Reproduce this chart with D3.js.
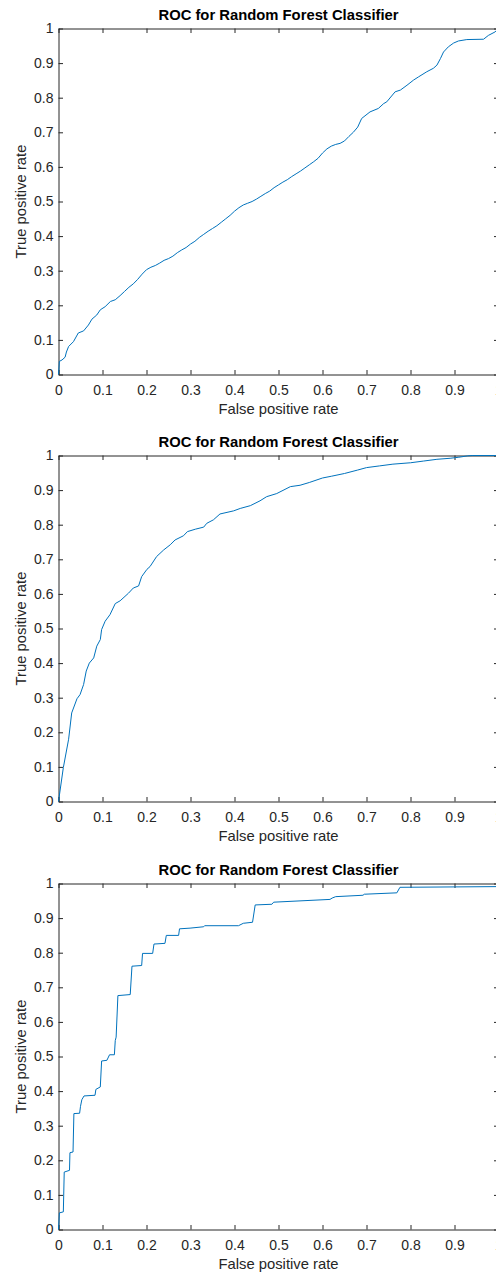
<!DOCTYPE html>
<html>
<head>
<meta charset="utf-8">
<script src="https://cdn.jsdelivr.net/npm/d3@7"></script>
<style>
  body { margin: 0; background: #fff; }
  svg { display: block; }
  text { font-family: "Liberation Sans", Arial, Helvetica, sans-serif; }
</style>
</head>
<body>
<svg id="fig" width="496" height="1278"></svg>
<script>
// ROC curve 1 (weak classifier)
const fpr1 = [0, 0.002, 0.008, 0.015, 0.018, 0.023, 0.034, 0.045, 0.057, 0.068, 0.076, 0.087, 0.095, 0.106, 0.118, 0.129,
  0.14, 0.15, 0.16, 0.17, 0.18, 0.19, 0.2, 0.21, 0.22, 0.23, 0.24, 0.25, 0.26, 0.27, 0.28, 0.29, 0.3, 0.31, 0.32, 0.33,
  0.34, 0.35, 0.36, 0.37, 0.38, 0.39, 0.4, 0.41, 0.42, 0.43, 0.44, 0.45, 0.46, 0.47, 0.48, 0.49, 0.5, 0.51, 0.52, 0.53,
  0.54, 0.55, 0.56, 0.57, 0.58, 0.59, 0.6, 0.61, 0.62, 0.63, 0.64, 0.65, 0.66, 0.67, 0.68, 0.689, 0.708, 0.727, 0.739,
  0.746, 0.765, 0.777, 0.792, 0.807, 0.818, 0.837, 0.852, 0.86, 0.868, 0.875, 0.886, 0.898, 0.909, 0.928, 0.966, 0.977,
  0.992, 1];
const tpr1 = [0, 0.038, 0.042, 0.05, 0.065, 0.081, 0.095, 0.12, 0.126, 0.143, 0.16, 0.172, 0.187, 0.196, 0.211, 0.216,
  0.228, 0.24, 0.252, 0.262, 0.275, 0.29, 0.303, 0.31, 0.315, 0.322, 0.33, 0.335, 0.342, 0.352, 0.36, 0.367, 0.377,
  0.385, 0.396, 0.405, 0.414, 0.422, 0.43, 0.44, 0.45, 0.46, 0.472, 0.482, 0.49, 0.495, 0.5, 0.507, 0.515, 0.523, 0.53,
  0.54, 0.548, 0.556, 0.563, 0.572, 0.58, 0.588, 0.597, 0.606, 0.615, 0.625, 0.64, 0.652, 0.66, 0.665, 0.668, 0.675,
  0.688, 0.7, 0.715, 0.74, 0.759, 0.769, 0.783, 0.788, 0.817, 0.822, 0.836, 0.851, 0.86, 0.875, 0.885, 0.894, 0.913,
  0.932, 0.947, 0.958, 0.964, 0.968, 0.969, 0.98, 0.99, 1];

// ROC curve 2 (good classifier)
const fpr2 = [0, 0.011, 0.023, 0.03, 0.042, 0.049, 0.057, 0.063, 0.07, 0.08, 0.087, 0.095, 0.098, 0.106, 0.117, 0.129,
  0.14, 0.159, 0.17, 0.182, 0.189, 0.201, 0.208, 0.223, 0.239, 0.254, 0.265, 0.284, 0.293, 0.311, 0.33, 0.337, 0.352,
  0.367, 0.398, 0.413, 0.436, 0.458, 0.473, 0.496, 0.527, 0.549, 0.57, 0.6, 0.62, 0.65, 0.68, 0.7, 0.73, 0.76, 0.8,
  0.83, 0.86, 0.89, 0.91, 0.93, 0.94, 1];
const tpr2 = [0, 0.098, 0.18, 0.256, 0.297, 0.309, 0.338, 0.377, 0.4, 0.415, 0.449, 0.468, 0.497, 0.521, 0.54, 0.572,
  0.58, 0.602, 0.617, 0.623, 0.65, 0.671, 0.679, 0.708, 0.727, 0.742, 0.756, 0.768, 0.78, 0.787, 0.793, 0.804, 0.814,
  0.831, 0.84, 0.847, 0.855, 0.869, 0.881, 0.89, 0.91, 0.914, 0.922, 0.935, 0.94, 0.948, 0.958, 0.965, 0.97, 0.975,
  0.979, 0.984, 0.989, 0.992, 0.995, 0.999, 1, 1];

// ROC curve 3 (few distinct scores, stair-shaped)
const fpr3 = [0, 0.002, 0.011, 0.013, 0.025, 0.026, 0.033, 0.035, 0.048, 0.05, 0.053, 0.058, 0.083, 0.085, 0.095, 0.098,
  0.11, 0.116, 0.127, 0.129, 0.131, 0.135, 0.163, 0.167, 0.189, 0.191, 0.214, 0.217, 0.242, 0.245, 0.273, 0.275, 0.299,
  0.33, 0.332, 0.409, 0.42, 0.441, 0.447, 0.485, 0.489, 0.617, 0.622, 0.63, 0.692, 0.695, 0.769, 0.776, 0.995, 1];
const tpr3 = [0, 0.048, 0.051, 0.166, 0.171, 0.222, 0.224, 0.335, 0.336, 0.356, 0.375, 0.386, 0.388, 0.405, 0.412, 0.487,
  0.489, 0.505, 0.505, 0.546, 0.556, 0.676, 0.679, 0.761, 0.763, 0.798, 0.798, 0.825, 0.827, 0.85, 0.85, 0.869, 0.871,
  0.875, 0.878, 0.878, 0.885, 0.888, 0.938, 0.94, 0.946, 0.954, 0.958, 0.962, 0.966, 0.969, 0.973, 0.989, 0.991, 1];

const xTicks = [0, 0.1, 0.2, 0.3, 0.4, 0.5, 0.6, 0.7, 0.8, 0.9, 1];
const yTicks = [0, 0.1, 0.2, 0.3, 0.4, 0.5, 0.6, 0.7, 0.8, 0.9, 1];
const titleText = "ROC for Random Forest Classifier";
const xLabelText = "False positive rate";
const yLabelText = "True positive rate";

const curves = [
  { fpr: fpr1, tpr: tpr1 },
  { fpr: fpr2, tpr: tpr2 },
  { fpr: fpr3, tpr: tpr3 }
];

const axisColor = "#262626";
const lineColor = "#0072BD";
const plotLeft = 58.5, plotW = 440, plotH = 346;
const plotTops = [28.5, 455.5, 883.5];
const tickLen = 4.5;
const tickFont = 14, labelFont = 14.8;

const svg = d3.select("#fig");
const fmt = d3.format("~g");

curves.forEach((c, i) => {
  const g = svg.append("g").attr("transform", `translate(${plotLeft},${plotTops[i]})`);
  const x = d3.scaleLinear().domain([0, 1]).range([0, plotW]);
  const y = d3.scaleLinear().domain([0, 1]).range([plotH, 0]);

  const styleAxis = sel => {
    sel.selectAll("path.domain").attr("stroke", axisColor).attr("stroke-width", 1);
    sel.selectAll(".tick line").attr("stroke", axisColor).attr("stroke-width", 1);
    sel.selectAll(".tick text").attr("fill", axisColor).style("font-size", tickFont + "px")
      .style("font-family", '"Liberation Sans", Arial, Helvetica, sans-serif');
  };

  // bottom axis with labels
  g.append("g").attr("transform", `translate(0,${plotH})`)
    .call(d3.axisBottom(x).tickValues(xTicks).tickFormat(fmt)
      .tickSizeInner(-tickLen).tickSizeOuter(0).tickPadding(10.5))
    .call(styleAxis);
  // left axis with labels
  g.append("g")
    .call(d3.axisLeft(y).tickValues(yTicks).tickFormat(fmt)
      .tickSizeInner(-tickLen).tickSizeOuter(0).tickPadding(5))
    .call(styleAxis);
  // top and right box edges with inward ticks
  g.append("g")
    .call(d3.axisTop(x).tickValues(xTicks).tickFormat("")
      .tickSizeInner(-tickLen).tickSizeOuter(0))
    .call(styleAxis);
  g.append("g").attr("transform", `translate(${plotW},0)`)
    .call(d3.axisRight(y).tickValues(yTicks).tickFormat("")
      .tickSizeInner(-tickLen).tickSizeOuter(0))
    .call(styleAxis);

  // ROC curve
  const pts = c.fpr.map((f, k) => [f, c.tpr[k]]);
  g.append("path")
    .datum(pts)
    .attr("fill", "none")
    .attr("stroke", lineColor)
    .attr("stroke-width", 1)
    .attr("stroke-linejoin", "round")
    .attr("d", d3.line().x(d => x(d[0])).y(d => y(d[1])));

  // title and axis labels
  g.append("text")
    .attr("x", plotW / 2).attr("y", -8.5)
    .attr("text-anchor", "middle")
    .attr("fill", "#000")
    .style("font-size", labelFont + "px").style("font-weight", "bold")
    .text(titleText);
  g.append("text")
    .attr("x", plotW / 2).attr("y", plotH + 39.5)
    .attr("text-anchor", "middle")
    .attr("fill", axisColor)
    .style("font-size", labelFont + "px")
    .text(xLabelText);
  g.append("text")
    .attr("transform", `translate(-33,${plotH / 2}) rotate(-90)`)
    .attr("text-anchor", "middle")
    .attr("fill", axisColor)
    .style("font-size", labelFont + "px")
    .text(yLabelText);
});
</script>
</body>
</html>
